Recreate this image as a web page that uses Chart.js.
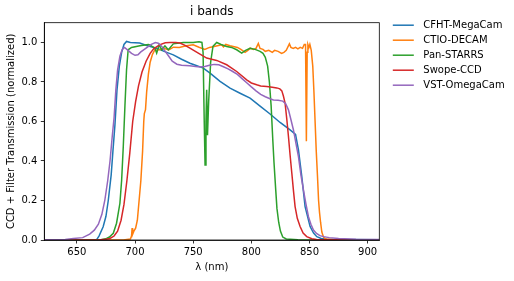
<!DOCTYPE html>
<html><head><meta charset="utf-8">
<script src="https://cdn.jsdelivr.net/npm/chart.js@4/dist/chart.umd.min.js"></script>
<style>html,body{margin:0;padding:0;background:#fff;}canvas{display:block;}</style>
</head><body>
<canvas id="c" width="514" height="281"></canvas>
<script>
const chartTitle = 'i bands';
const xLabel = 'λ (nm)';
const yLabel = 'CCD + Filter Transmission (normalized)';
const seriesNames = ['CFHT-MegaCam', 'CTIO-DECAM', 'Pan-STARRS', 'Swope-CCD', 'VST-OmegaCam'];
const seriesColors = ['#1f77b4', '#ff7f0e', '#2ca02c', '#d62728', '#9467bd'];
const xTicks = [650, 700, 750, 800, 850, 900];
const yTicks = [0, 0.2, 0.4, 0.6, 0.8, 1.0];

// [wavelength nm, transmission]
const cfht = [[622,0],[660,0],[667,0.002],[669,0.02],[672.6,0.067],[675,0.12],[677,0.2],[679.5,0.33],[681,0.45],[682.7,0.58],[684.5,0.76],[686.5,0.88],[688.5,0.95],[690.5,0.99],[692.7,1.005],[696,1.0],[704,0.997],[710,0.985],[718.6,0.971],[725,0.955],[732.9,0.937],[740,0.915],[747.2,0.895],[752,0.885],[758.7,0.87],[764.5,0.845],[773.1,0.803],[781.7,0.769],[790.3,0.743],[798.9,0.718],[807.5,0.678],[816.1,0.638],[824.7,0.595],[833.3,0.557],[838,0.535],[840.5,0.456],[843.4,0.32],[846.2,0.169],[850.5,0.068],[853.5,0.035],[856.3,0.017],[860,0.008],[865,0.004],[880,0.002],[910,0.001]];
const decam = [[622,0],[690,0],[696,0.005],[697,0.02],[697.5,0.06],[698,0.03],[699,0.045],[700.5,0.06],[702,0.1],[703.5,0.2],[705,0.3],[706.5,0.45],[707.5,0.6],[708,0.64],[709,0.66],[710,0.75],[711.5,0.84],[713,0.9],[715,0.94],[717,0.962],[721,0.963],[725,0.97],[729,0.962],[733,0.976],[738,0.975],[744,0.983],[750,0.988],[755,0.976],[760,0.965],[764,0.975],[768,0.98],[774.5,0.988],[776,0.978],[778,0.99],[781.7,0.983],[788,0.975],[791,0.965],[794.6,0.95],[797,0.96],[799,0.971],[802,0.965],[804,0.97],[806,0.995],[807.5,0.97],[810,0.965],[812,0.955],[815,0.96],[818,0.95],[820,0.96],[823,0.955],[826,0.945],[828,0.95],[830,0.96],[832.7,0.993],[834,0.975],[836,0.97],[838,0.975],[840,0.968],[842,0.975],[844,0.97],[845.5,0.99],[846.6,0.99],[847.3,0.5],[848,0.95],[848.6,0.99],[849.5,0.975],[850.3,0.99],[851.5,0.96],[852.8,0.88],[853.8,0.75],[854.8,0.6],[855.8,0.45],[856.8,0.33],[857.8,0.2],[858.6,0.14],[859.5,0.09],[860.6,0.04],[862,0.015],[864,0.005],[870,0.002],[910,0.001]];
const panstarrs = [[622,0],[670,0],[675.5,0.008],[678,0.015],[681.3,0.034],[684.1,0.085],[687,0.186],[688.5,0.304],[689.9,0.473],[691.3,0.676],[692.7,0.862],[694.1,0.963],[697,0.975],[704.2,0.983],[711.4,0.99],[712.8,0.988],[717.1,0.971],[718.6,0.946],[720.8,0.988],[722.9,0.963],[725.7,0.983],[728.6,0.963],[732.9,0.993],[741.5,1.0],[750,1.0],[755,1.003],[757.5,1.0],[758.5,0.95],[759.5,0.6],[760.2,0.38],[761,0.6],[761.6,0.76],[762.3,0.53],[763.3,0.7],[765,0.9],[767,0.98],[770.2,1.0],[774,0.99],[778.8,0.98],[783,0.975],[787.4,0.963],[791.7,0.946],[795,0.96],[798.9,0.97],[803.2,0.965],[807.5,0.955],[810,0.945],[812,0.925],[814,0.88],[815.5,0.8],[817,0.68],[818.5,0.5],[819.5,0.39],[821,0.25],[822,0.16],[823.5,0.09],[825,0.045],[827,0.015],[830,0.005],[840,0.001],[910,0]];
const swope = [[622,0],[670,0.001],[675,0.004],[678.4,0.008],[682,0.02],[685,0.045],[688,0.1],[690.5,0.18],[693,0.3],[695.5,0.44],[698,0.6],[700.5,0.7],[703,0.78],[706,0.85],[709.5,0.905],[713,0.945],[716,0.968],[721,0.988],[726,0.998],[730,1.0],[735,1.0],[738.6,0.997],[743,0.985],[747.2,0.971],[754.4,0.946],[761.6,0.921],[770.2,0.909],[778.8,0.887],[787.4,0.853],[796,0.811],[800,0.795],[804.6,0.786],[808,0.78],[813.2,0.777],[818,0.773],[821.9,0.77],[824.5,0.765],[826.2,0.755],[827.5,0.73],[829,0.693],[830.5,0.61],[831.9,0.524],[833.3,0.43],[834.8,0.338],[836.2,0.25],[837.6,0.169],[839.5,0.11],[841.9,0.068],[844.5,0.035],[847.6,0.017],[852,0.006],[856,0.002],[870,0.001],[910,0]];
const vst = [[622,0.001],[640,0.003],[647,0.008],[655,0.012],[661,0.03],[665,0.05],[668.5,0.08],[671.5,0.13],[674,0.2],[676.5,0.3],[678.5,0.4],[680.5,0.53],[682,0.62],[683.5,0.76],[685,0.86],[687,0.93],[689,0.965],[691,0.975],[694,0.96],[697,0.945],[700,0.935],[702.5,0.938],[705,0.952],[708,0.965],[711,0.978],[714,0.99],[717.5,1.0],[720,0.996],[723,0.98],[726,0.955],[729,0.93],[732,0.905],[736,0.89],[740,0.885],[747,0.882],[752,0.878],[756,0.876],[760,0.878],[764,0.885],[768,0.889],[772,0.887],[776,0.877],[780,0.866],[784,0.853],[788,0.838],[792,0.817],[796,0.796],[800,0.775],[804,0.755],[808,0.737],[812,0.725],[816,0.715],[819,0.709],[823,0.707],[827,0.703],[829.5,0.69],[831.9,0.659],[834,0.61],[836.2,0.557],[838.3,0.49],[840.5,0.422],[842.6,0.33],[844.8,0.253],[847,0.18],[849.1,0.118],[851.2,0.08],[853.4,0.05],[856,0.033],[859,0.022],[862,0.017],[867,0.012],[875,0.008],[890,0.004],[910,0.002]];

const seriesData = [cfht, decam, panstarrs, swope, vst];
const FONT = '"DejaVu Sans", "Liberation Sans", sans-serif';

const deco = {
  id: 'deco',
  beforeDraw(chart) {
    const ctx = chart.ctx;
    ctx.save();
    ctx.fillStyle = '#fff';
    ctx.fillRect(0, 0, chart.width, chart.height);
    ctx.restore();
  },
  afterDraw(chart) {
    const ctx = chart.ctx, a = chart.chartArea;
    ctx.save();
    ctx.strokeStyle = '#000';
    ctx.lineWidth = 0.8;
    ctx.strokeRect(a.left, a.top, a.right - a.left, a.bottom - a.top);
    ctx.fillStyle = '#000';
    ctx.font = '12px ' + FONT;
    ctx.textAlign = 'center';
    ctx.textBaseline = 'middle';
    ctx.fillText(chartTitle, (a.left + a.right) / 2, a.top - 10.5);
    ctx.font = '10px ' + FONT;
    ctx.textAlign = 'left';
    chart.data.datasets.forEach((d, i) => {
      const y = a.top + 2.5 + 15 * i;
      const x0 = a.right + 13.5;
      ctx.strokeStyle = d.borderColor;
      ctx.lineWidth = 1.5;
      ctx.beginPath();
      ctx.moveTo(x0, y);
      ctx.lineTo(x0 + 21, y);
      ctx.stroke();
      ctx.fillStyle = '#000';
      ctx.fillText(d.label, x0 + 30.5, y);
    });
    ctx.restore();
  }
};

new Chart(document.getElementById('c'), {
  type: 'line',
  data: {
    datasets: seriesData.map((s, i) => ({
      label: seriesNames[i],
      data: s.map(p => ({x: p[0], y: p[1]})),
      borderColor: seriesColors[i],
      backgroundColor: seriesColors[i],
      borderWidth: 1.5,
      pointRadius: 0,
      tension: 0,
      fill: false,
      order: seriesData.length - 1 - i
    }))
  },
  options: {
    responsive: false,
    animation: false,
    devicePixelRatio: 1,
    layout: {padding: {left: 0, top: 22.7, right: 134.7, bottom: 0}},
    plugins: {legend: {display: false}, title: {display: false}, tooltip: {enabled: false}},
    scales: {
      x: {
        type: 'linear',
        min: 622, max: 910,
        afterBuildTicks: s => { s.ticks = xTicks.map(v => ({value: v})); },
        afterFit: s => { s.height = 41; },
        grid: {drawOnChartArea: false, drawTicks: true, tickLength: 3.5, color: '#000', lineWidth: 0.8},
        border: {display: true, color: '#000', width: 0.8},
        ticks: {color: '#000', font: {family: FONT, size: 10}, padding: 3, maxRotation: 0, callback: v => String(v)},
        title: {display: true, text: xLabel, color: '#000', font: {family: FONT, size: 10}, padding: {top: 0, bottom: 7.3}}
      },
      y: {
        type: 'linear',
        min: 0, max: 1.1,
        afterBuildTicks: s => { s.ticks = yTicks.map(v => ({value: v})); },
        afterFit: s => { s.width = 44.3; },
        grid: {drawOnChartArea: false, drawTicks: true, tickLength: 3.5, color: '#000', lineWidth: 0.8},
        border: {display: true, color: '#000', width: 0.8},
        ticks: {color: '#000', font: {family: FONT, size: 10}, padding: 3.5, callback: v => Number(v).toFixed(1)},
        title: {display: true, text: yLabel, color: '#000', font: {family: FONT, size: 10}, padding: {top: 5.7, bottom: 0}}
      }
    }
  },
  plugins: [deco]
});
</script>
</body></html>
